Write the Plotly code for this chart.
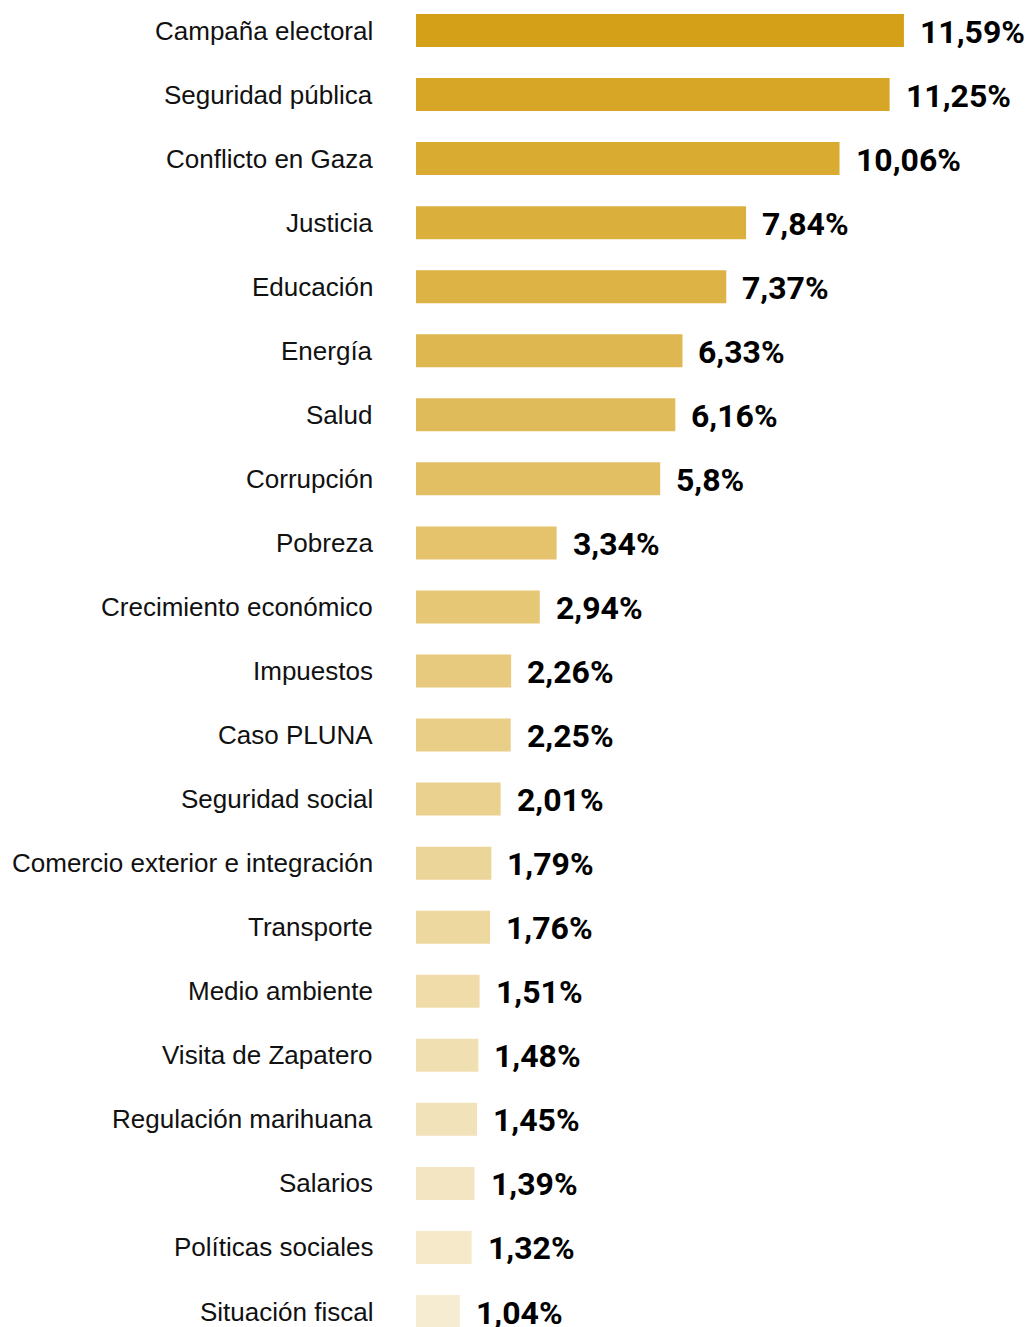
import plotly.graph_objects as go

categories = ["Campaña electoral", "Seguridad pública", "Conflicto en Gaza", "Justicia",
              "Educación", "Energía", "Salud", "Corrupción", "Pobreza",
              "Crecimiento económico", "Impuestos", "Caso PLUNA", "Seguridad social",
              "Comercio exterior e integración", "Transporte", "Medio ambiente",
              "Visita de Zapatero", "Regulación marihuana", "Salarios",
              "Políticas sociales", "Situación fiscal"]
values = [11.59, 11.25, 10.06, 7.84, 7.37, 6.33, 6.16, 5.8, 3.34, 2.94, 2.26, 2.25,
          2.01, 1.79, 1.76, 1.51, 1.48, 1.45, 1.39, 1.32, 1.04]
value_labels = ["11,59%", "11,25%", "10,06%", "7,84%", "7,37%", "6,33%", "6,16%", "5,8%",
                "3,34%", "2,94%", "2,26%", "2,25%", "2,01%", "1,79%", "1,76%", "1,51%",
                "1,48%", "1,45%", "1,39%", "1,32%", "1,04%"]

n = len(categories)
gold = (212, 160, 23)
colors = []
for i in range(n):
    a = 1 - 0.8 * (i / (n - 1)) ** 0.85
    r = round(255 - (255 - gold[0]) * a)
    g = round(255 - (255 - gold[1]) * a)
    b = round(255 - (255 - gold[2]) * a)
    colors.append(f"rgb({r},{g},{b})")

W, H = 1026, 1319   # page body adds an 8px margin
L = 408
row = 64.05
first = 22.5

fig = go.Figure(go.Bar(
    x=values, y=categories, orientation="h",
    marker=dict(color=colors, line=dict(width=0)),
    width=33 / row, hoverinfo="skip",
))

annotations = []
for cat, v, lab in zip(categories, values, value_labels):
    annotations.append(dict(
        x=v, y=cat, xref="x", yref="y", text=lab, showarrow=False,
        xanchor="left", yanchor="middle", xshift=14, yshift=-1,
        font=dict(family="Roboto, Arial", size=32, color="#000000", weight="bold"),
    ))
    annotations.append(dict(
        x=0, y=cat, xref="paper", yref="y", text=cat, showarrow=False,
        xanchor="right", yanchor="middle", xshift=-41,
        font=dict(family="Liberation Sans, Arial, Helvetica", size=26, color="#111111"),
    ))

fig.update_layout(
    width=W, height=H,
    margin=dict(l=L, r=0, t=0, b=0),
    paper_bgcolor="white", plot_bgcolor="white",
    showlegend=False,
    xaxis=dict(range=[0, (W - L) / 42.1], visible=False, fixedrange=True),
    yaxis=dict(type="category", categoryorder="array", categoryarray=categories,
               range=[(H - first) / row, -first / row], visible=False, fixedrange=True),
    annotations=annotations,
)
fig.update_traces(cliponaxis=False)

fig.write_html("out.html", config={"displayModeBar": False})
